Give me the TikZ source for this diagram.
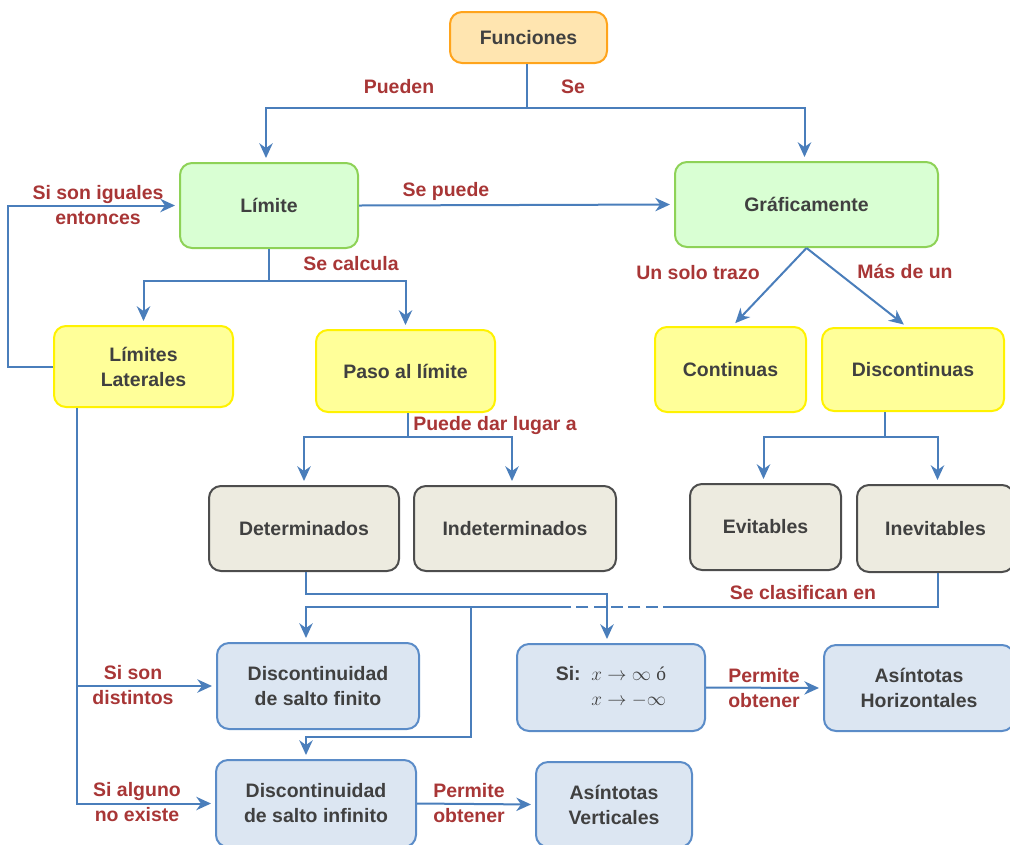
\documentclass[tikz,border=0pt]{standalone}
\usepackage{fontspec}
\setmainfont{Liberation Sans}
\newfontfamily\seriftext{Liberation Serif}
\usetikzlibrary{arrows.meta}

\definecolor{linkblue}{HTML}{4A7EBB}
\definecolor{labelred}{HTML}{A83636}
\definecolor{textgray}{HTML}{404040}
\definecolor{orfill}{HTML}{FFE5B0}
\definecolor{ordraw}{HTML}{FFA41C}
\definecolor{grfill}{HTML}{D9FFD3}
\definecolor{grdraw}{HTML}{8ED257}
\definecolor{yefill}{HTML}{FFFF99}
\definecolor{yedraw}{HTML}{FFF200}
\definecolor{befill}{HTML}{EDEBE0}
\definecolor{bedraw}{HTML}{4D4D4D}
\definecolor{blfill}{HTML}{DCE6F2}
\definecolor{bldraw}{HTML}{5B8CC8}

\tikzset{
  box/.style={rounded corners=9pt, line width=1.5pt, inner sep=0pt,
    align=center, text=textgray, font=\bfseries\fontsize{14.6}{18.75}\selectfont},
  orbox/.style={box, fill=orfill, draw=ordraw},
  grbox/.style={box, fill=grfill, draw=grdraw},
  yebox/.style={box, fill=yefill, draw=yedraw},
  bebox/.style={box, fill=befill, draw=bedraw},
  blbox/.style={box, fill=blfill, draw=bldraw},
  lbl/.style={text=labelred, align=center, inner sep=0pt,
    font=\bfseries\fontsize{14.6}{18.75}\selectfont},
  link/.style={draw=linkblue, line width=1.5pt},
  arr/.style={link, -{Stealth[length=11pt, width=10pt, inset=3.5pt]}, shorten >=3pt},
}

\begin{document}
\begin{tikzpicture}[x=0.75pt, y=-0.75pt]
\useasboundingbox (0,0) rectangle (1010,844);

% boxes
\node[orbox, minimum width=117.75pt, minimum height=38.25pt] (fun) at (528.5,37.5) {Funciones};
\node[grbox, minimum width=133.5pt, minimum height=63.75pt] (lim) at (269,205.5) {Límite};
\node[grbox, minimum width=197.25pt, minimum height=63.75pt] (graf) at (806.5,204.5) {Gráficamente};
\node[yebox, minimum width=134.25pt, minimum height=60.75pt] (lat) at (143.5,366.5) {Límites\\Laterales};
\node[yebox, minimum width=134.25pt, minimum height=61.5pt] (paso) at (405.5,371) {Paso al límite};
\node[yebox, minimum width=113.25pt, minimum height=63.75pt] (cont) at (730.5,369.5) {Continuas};
\node[yebox, minimum width=136.5pt, minimum height=62.25pt] (disc) at (913,369.5) {Discontinuas};
\node[bebox, minimum width=142.5pt, minimum height=63.75pt] (det) at (304,528.5) {Determinados};
\node[bebox, minimum width=151.5pt, minimum height=63.75pt] (indet) at (515,528.5) {Indeterminados};
\node[bebox, minimum width=113.25pt, minimum height=64.5pt] (evit) at (765.5,527) {Evitables};
\node[bebox, minimum width=117.75pt, minimum height=65.25pt] (inev) at (935.5,528.5) {Inevitables};
\node[blbox, minimum width=151.5pt, minimum height=64.5pt] (dsf) at (318,686) {Discontinuidad\\de salto finito};
\node[blbox, minimum width=141pt, minimum height=65.25pt] (si) at (611,687.5)
  {\begin{tabular}{@{}l@{\hspace{8pt}}l@{}}Si: & $x\to\infty$ {\seriftext\mdseries ó}\\[0pt] & $x\to-\infty$\end{tabular}};
\node[blbox, minimum width=142.5pt, minimum height=64.5pt] (ah) at (919,688) {Asíntotas\\Horizontales};
\node[blbox, minimum width=150pt, minimum height=65.25pt] (dsi) at (316,803.5) {Discontinuidad\\de salto infinito};
\node[blbox, minimum width=117pt, minimum height=63.75pt] (av) at (614,804.5) {Asíntotas\\Verticales};

% helper coordinates for the routed connectors
\coordinate (topj) at (527,108);
\coordinate (limj) at (269,281);
\coordinate (pasoj) at (408,437);
\coordinate (stemx) at (885,0);
\coordinate (discj) at (885,437);
\coordinate (latx) at (77,0);
\coordinate (bendA) at (607,594);
\coordinate (dashR) at (675,607);
\coordinate (dashL) at (567,607);
\coordinate (splitT) at (471,607);
\coordinate (splitB) at (471,737);
\coordinate (colA) at (306,0);

% connectors
\draw[link] (fun.south -| topj) -- (topj);
\draw[arr] (topj) -| ([xshift=-2.25pt]lim.north);
\draw[arr] (topj) -| ([xshift=-1.5pt]graf.north);
\draw[arr] (lim.east) -- (graf.west);
\draw[arr] (lat.west) -- ++(-45,0) |- (lim.west);
\draw[link] (lim.south) -- (limj);
\draw[arr] (limj) -| (lat.north);
\draw[arr] (limj) -| (paso.north);
\draw[arr] (graf.south) -- ([xshift=1.5pt]cont.north);
\draw[arr] (graf.south) -- ([xshift=-4.5pt]disc.north);
\draw[link] (paso.south -| pasoj) -- (pasoj);
\draw[arr] (pasoj) -| (det.north);
\draw[arr] (pasoj) -| ([xshift=-2.25pt]indet.north);
\draw[link] (disc.south -| stemx) -- (discj);
\draw[arr] (discj) -| ([xshift=-1.5pt]evit.north);
\draw[arr] (discj) -| ([xshift=1.5pt]inev.north);
\draw[arr] (lat.south -| latx) |- (dsi.west);
\draw[arr] (latx |- dsf.west) -- (dsf.west);
\draw[arr] (det.south -| colA) |- (bendA) -- (si.north -| bendA);
\draw[link] ([xshift=1.5pt]inev.south) |- (dashR);
\draw[link, dashed, dash pattern=on 9pt off 4pt] (dashR) -- (dashL);
\draw[arr] (dashL) -| (dsf.north -| colA);
\draw[arr] (splitT) -- (splitB) -| (dsi.north -| colA);
\draw[arr] (si.east) -- (ah.west);
\draw[arr] (dsi.east) -- (av.west);

% connector labels
\node[lbl] (l1) at (399,87) {Pueden};
\node[lbl] (l2) at (573,87) {Se};
\node[lbl] (l3) at (446,191) {Se puede};
\node[lbl] (l4) at (98,205) {Si son iguales\\entonces};
\node[lbl] (l5) at (351,264) {Se calcula};
\node[lbl] (l6) at (698,273) {Un solo trazo};
\node[lbl] (l7) at (905,271) {Más de un};
\node[lbl] (l8) at (495,425) {Puede dar lugar a};
\node[lbl] (l9) at (803,593) {Se clasifican en};
\node[lbl] (l10) at (133,685) {Si son\\distintos};
\node[lbl] (l11) at (137,802) {Si alguno\\no existe};
\node[lbl] (l12) at (764,688) {Permite\\obtener};
\node[lbl] (l13) at (469,803) {Permite\\obtener};
\end{tikzpicture}
\end{document}
